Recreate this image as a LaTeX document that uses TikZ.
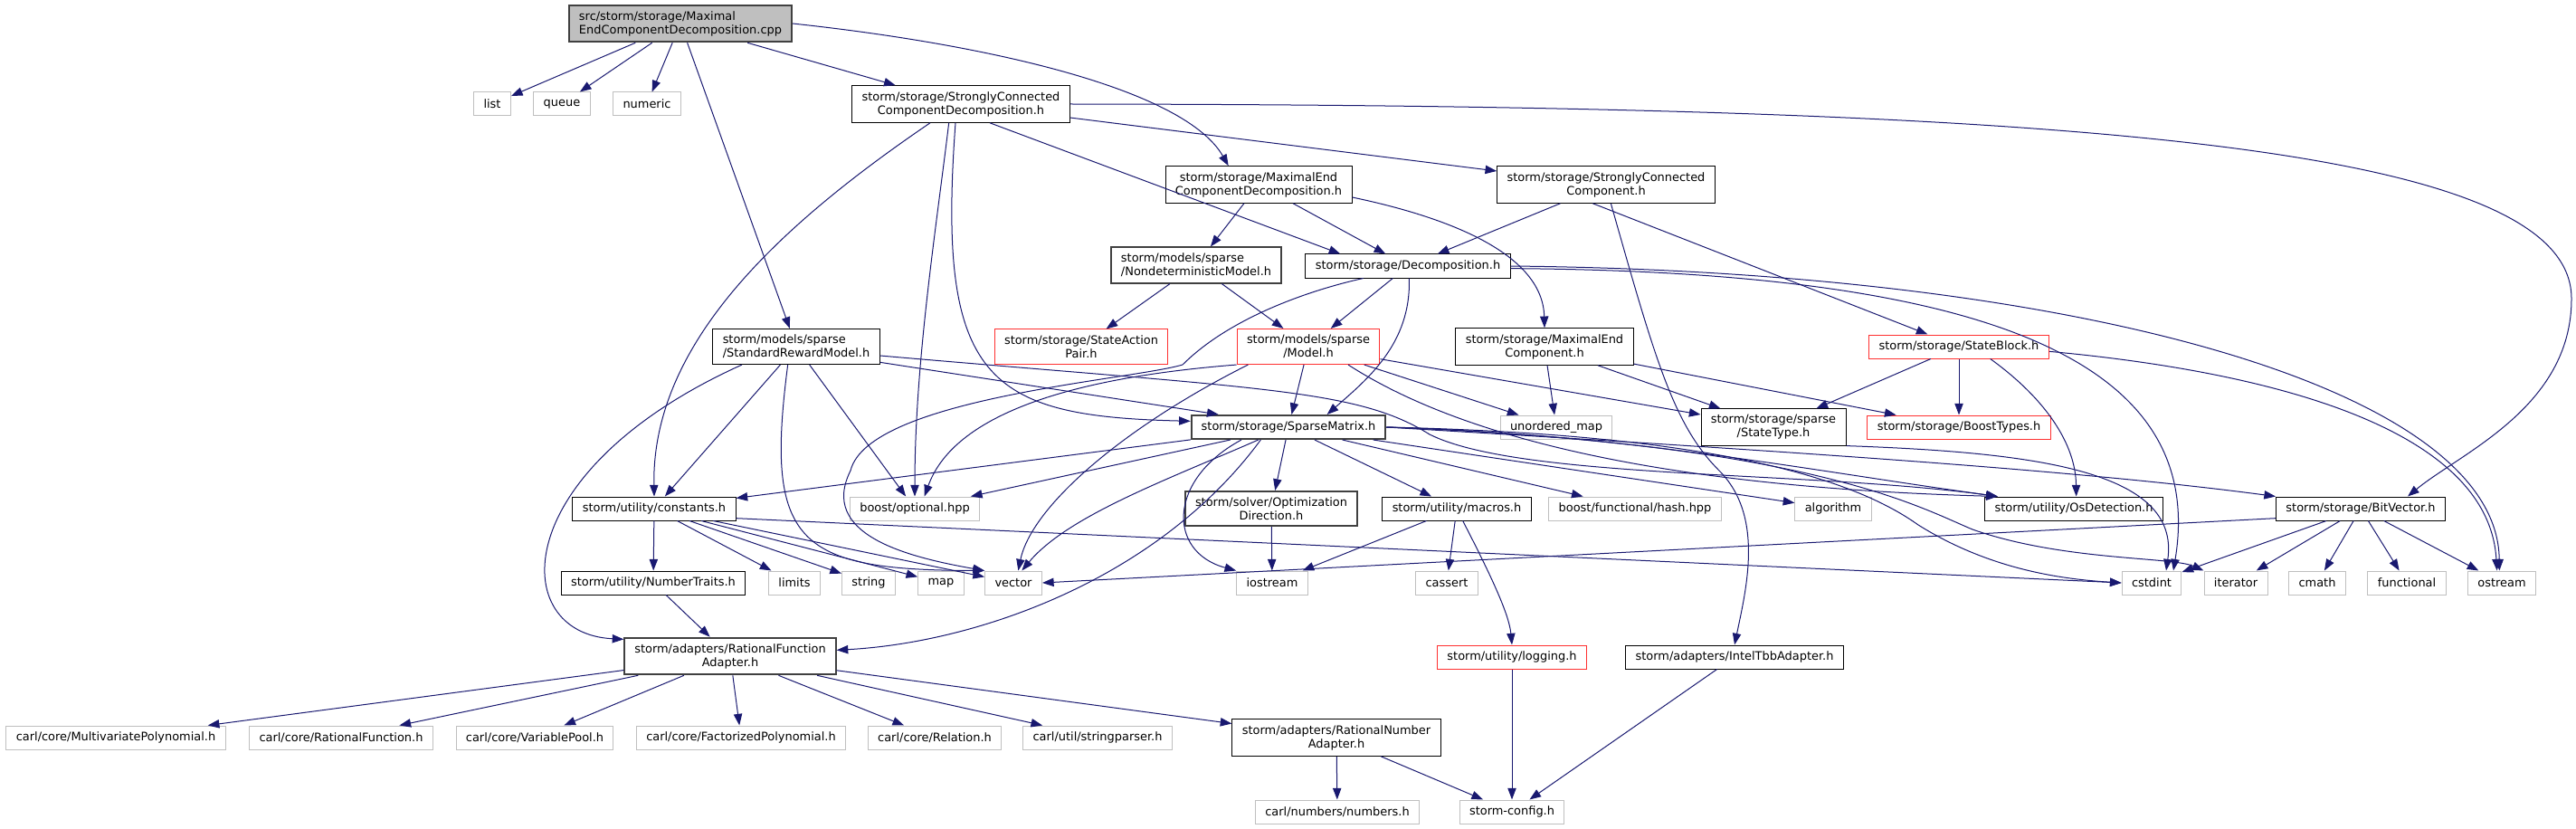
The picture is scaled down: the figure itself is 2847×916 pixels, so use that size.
\documentclass[tikz,border=0pt]{standalone}
\usepackage{fontspec}
\setmainfont{DejaVu Sans}
\usepackage{tikz}
\usetikzlibrary{arrows.meta}
\definecolor{doxblue}{RGB}{25,25,112}
\definecolor{doxgray}{RGB}{191,191,191}
\definecolor{doxdark}{RGB}{64,64,64}
\definecolor{doxred}{RGB}{255,48,48}

\begin{document}
\begin{tikzpicture}[x=0.75pt, y=-0.75pt,
    every node/.style={font=\fontsize{9.7}{11.25}\selectfont, inner xsep=8.2pt, inner ysep=4.9pt,
      minimum height=19.5pt, align=center, line width=0.75pt},
    hdr/.style={draw=black},
    hdrdark/.style={draw=doxdark, line width=1.5pt},
    leaf/.style={draw=doxgray},
    trunc/.style={draw=doxred},
    srcfile/.style={draw=doxdark, line width=1.5pt, fill=doxgray, align=left},
    dep/.style={draw=doxblue, line width=0.75pt, -{Triangle[length=9.5pt,width=7pt]}}]
    \useasboundingbox (0,0) rectangle (2847,916);
    % Source file
    \node[srcfile] (main) at (752,26) {src/storm/storage/Maximal\\EndComponentDecomposition.cpp};
    % Headers
    \node[hdr] (sccd) at (1062,115) {storm/storage/StronglyConnected\\ComponentDecomposition.h};
    \node[hdr] (mecd) at (1391,204) {storm/storage/MaximalEnd\\ComponentDecomposition.h};
    \node[hdr] (scc) at (1775,204) {storm/storage/StronglyConnected\\Component.h};
    \node[hdrdark, align=left] (ndm) at (1322,293) {storm/models/sparse\\/NondeterministicModel.h};
    \node[hdr] (decomp) at (1556,294) {storm/storage/Decomposition.h};
    \node[hdr, align=left] (srm) at (880,383) {storm/models/sparse\\/StandardRewardModel.h};
    \node[trunc] (sap) at (1195,383) {storm/storage/StateAction\\Pair.h};
    \node[trunc] (model) at (1446,383) {storm/models/sparse\\/Model.h};
    \node[hdr] (mec) at (1707,383) {storm/storage/MaximalEnd\\Component.h};
    \node[trunc] (sblock) at (2165,383) {storm/storage/StateBlock.h};
    \node[hdrdark] (spm) at (1424,472) {storm/storage/SparseMatrix.h};
    \node[leaf] (umap) at (1720,472) {unordered\_map};
    \node[hdr] (stype) at (1960,472) {storm/storage/sparse\\/StateType.h};
    \node[trunc] (btypes) at (2165,472) {storm/storage/BoostTypes.h};
    \node[hdr] (const) at (723,562) {storm/utility/constants.h};
    \node[leaf] (bopt) at (1011,562) {boost/optional.hpp};
    \node[hdrdark] (optdir) at (1405,562) {storm/solver/Optimization\\Direction.h};
    \node[hdr] (macros) at (1610,562) {storm/utility/macros.h};
    \node[leaf] (bhash) at (1807,562) {boost/functional/hash.hpp};
    \node[hdr] (osdet) at (2292,562) {storm/utility/OsDetection.h};
    \node[hdr] (bitvec) at (2609,562) {storm/storage/BitVector.h};
    \node[hdr] (ntraits) at (722,644) {storm/utility/NumberTraits.h};
    \node[hdrdark] (rfa) at (807,725) {storm/adapters/RationalFunction\\Adapter.h};
    \node[trunc] (logging) at (1671,726) {storm/utility/logging.h};
    \node[hdr] (tbb) at (1917,726) {storm/adapters/IntelTbbAdapter.h};
    \node[hdr] (rna) at (1477,815) {storm/adapters/RationalNumber\\Adapter.h};
    % Carl headers
    \node[leaf] (mvp) at (128,815) {carl/core/MultivariatePolynomial.h};
    \node[leaf] (rf) at (377,815) {carl/core/RationalFunction.h};
    \node[leaf] (vpool) at (591,815) {carl/core/VariablePool.h};
    \node[leaf] (fpoly) at (819,815) {carl/core/FactorizedPolynomial.h};
    \node[leaf] (rel) at (1033,815) {carl/core/Relation.h};
    \node[leaf] (sparser) at (1213,815) {carl/util/stringparser.h};
    \node[leaf] (numbers) at (1478,897) {carl/numbers/numbers.h};
    \node[leaf] (config) at (1671,897) {storm-config.h};
    % System headers
    \foreach \n/\x/\y in {list/544/115, queue/621/115, numeric/715/115, algorithm/2026/562,
        limits/878/644, string/960/644, map/1040/644, vector/1120/644, iostream/1406/644,
        cassert/1599/644, cstdint/2378/644, iterator/2471/644, cmath/2561/644,
        functional/2660/644, ostream/2765/644}{
      \node[leaf] (\n) at (\x,\y) {\n};
    }
    % Includes of the source file
    \draw[dep] (main) -- (list);
    \draw[dep] (main) -- (queue);
    \draw[dep] (main) -- (numeric);
    \draw[dep] (main) -- (sccd);
    \draw[dep] (main) -- (srm);
    \draw[dep] (main.east) .. controls (1100,50) and (1310,100) .. ([xshift=-25pt]mecd.north);
    % StronglyConnectedComponentDecomposition.h
    \draw[dep] ([xshift=-25.5pt]sccd.south) .. controls (860,250) and (720,380) .. (const.north);
    \draw[dep] ([xshift=-10pt]sccd.south) .. controls (1035,250) and (1011,400) .. (bopt.north);
    \draw[dep] ([xshift=-4.5pt]sccd.south) .. controls (1035,420) and (1090,460) .. ([yshift=5pt]spm.west);
    \draw[dep] ([xshift=24pt]sccd.south) -- ([xshift=-56pt]decomp.north);
    \draw[dep] (sccd) -- (scc);
    \draw[dep] (sccd.east) .. controls (2300,116) and (2842,160) .. (2842,330)
      .. controls (2842,450) and (2720,500) .. ([xshift=39pt]bitvec.north);
    % MaximalEndComponentDecomposition.h
    \draw[dep] (mecd) -- (ndm);
    \draw[dep] (mecd) -- (decomp);
    \draw[dep] ([yshift=-10.5pt]mecd.east) .. controls (1600,240) and (1705,280) .. (mec.north);
    % StronglyConnectedComponent.h
    \draw[dep] (scc) -- (decomp);
    \draw[dep] ([xshift=-11pt]scc.south) -- (sblock);
    \draw[dep] ([xshift=4pt]scc.south) .. controls (1830,400) and (1850,470) .. (1900,520)
      .. controls (1950,570) and (1930,650) .. (tbb.north);
    % Decomposition.h
    \draw[dep] (decomp) -- (model);
    \draw[dep] ([xshift=1pt]decomp.south) .. controls (1560,380) and (1510,420) .. ([xshift=32pt]spm.north);
    \draw[dep] ([xshift=-37pt]decomp.south) .. controls (1450,320) and (1360,350) .. (1307,403)
      .. controls (1250,420) and (960,440) .. (940,520)
      .. controls (905,590) and (1000,615) .. (vector.north west);
    \draw[dep] ([yshift=-2pt]decomp.east) .. controls (2200,300) and (2440,400) .. ([xshift=18pt]cstdint.north);
    \draw[dep] (decomp.east) .. controls (2300,300) and (2760,430) .. ([xshift=-2pt]ostream.north);
    % NondeterministicModel.h
    \draw[dep] (ndm) -- (sap);
    \draw[dep] (ndm) -- (model);
    % StandardRewardModel.h
    \draw[dep] ([xshift=-45pt]srm.south) .. controls (560,520) and (560,700) .. ([yshift=-2pt]rfa.north west);
    \draw[dep] (srm) -- (const);
    \draw[dep] ([xshift=-7pt]srm.south) .. controls (845,600) and (880,630) .. (vector.north west);
    \draw[dep] (srm) -- (bopt);
    \draw[dep] ([yshift=-13pt]srm.east) -- ([xshift=-58pt]spm.north);
    \draw[dep] ([yshift=-7.5pt]srm.east) .. controls (1400,430) and (1500,430) .. (1580,480)
      .. controls (1680,530) and (2000,520) .. ([xshift=11pt]osdet.north west);
    % Model.h
    \draw[dep] (model.south west) .. controls (1150,420) and (1050,470) .. ([xshift=8pt]bopt.north);
    \draw[dep] ([xshift=-50pt]model.south) .. controls (1240,473) and (1140,560) .. ([xshift=4pt]vector.north);
    \draw[dep] (model) -- (spm);
    \draw[dep] (model) -- (umap);
    \draw[dep] (model) -- (stype);
    \draw[dep] ([xshift=33pt]model.south) .. controls (1640,500) and (1900,540) .. ([xshift=11pt]osdet.north west);
    % MaximalEndComponent.h
    \draw[dep] (mec) -- (umap);
    \draw[dep] (mec) -- (stype);
    \draw[dep] (mec) -- (btypes);
    % StateBlock.h
    \draw[dep] (sblock) -- (stype);
    \draw[dep] (sblock) -- (btypes);
    \draw[dep] ([xshift=26pt]sblock.south) .. controls (2260,440) and (2294,490) .. ([xshift=2pt]osdet.north);
    \draw[dep] ([yshift=-4pt]sblock.east) .. controls (2500,410) and (2750,470) .. ([xshift=-4pt]ostream.north);
    % StateType.h
    \draw[dep] (stype.south east) .. controls (2250,500) and (2410,520) .. ([xshift=12pt]cstdint.north);
    % SparseMatrix.h
    \draw[dep] (spm) -- (const);
    \draw[dep] (spm) -- (bopt);
    \draw[dep] ([xshift=-25pt]spm.south) .. controls (1290,530) and (1180,570) .. ([xshift=7pt]vector.north);
    \draw[dep] ([xshift=-23pt]spm.south) .. controls (1280,640) and (1080,710) .. ([yshift=5pt]rfa.east);
    \draw[dep] ([xshift=-39pt]spm.south) .. controls (1290,530) and (1290,610) .. (iostream.north west);
    \draw[dep] (spm) -- (optdir);
    \draw[dep] (spm) -- (macros);
    \draw[dep] (spm) -- (bhash);
    \draw[dep] (spm) -- (algorithm);
    \draw[dep] (spm.east) .. controls (1800,480) and (2000,520) .. ([xshift=11pt]osdet.north west);
    \draw[dep] (spm.east) .. controls (2000,500) and (2300,520) .. (bitvec.north west);
    \draw[dep] (spm.east) .. controls (1900,480) and (2050,530) .. (2120,580)
      .. controls (2200,630) and (2280,640) .. (cstdint.west);
    \draw[dep] (spm.east) .. controls (2000,490) and (2120,560) .. (2180,585)
      .. controls (2280,620) and (2400,615) .. (iterator.north west);
    % constants.h
    \draw[dep] (const) -- (ntraits);
    \draw[dep] (const) -- (limits);
    \draw[dep] (const) -- (string);
    \draw[dep] (const) -- (map);
    \draw[dep] (const) -- (vector);
    \draw[dep] ([yshift=-8pt]const.east) -- (cstdint.west);
    \draw[dep] (ntraits) -- (rfa);
    % BitVector.h
    \draw[dep] ([yshift=-8pt]bitvec.west) -- (vector.east);
    \draw[dep] (bitvec) -- (cstdint);
    \draw[dep] (bitvec) -- (iterator);
    \draw[dep] (bitvec) -- (cmath);
    \draw[dep] (bitvec) -- (functional);
    \draw[dep] (bitvec) -- (ostream);
    % macros.h and OptimizationDirection.h
    \draw[dep] (macros) -- (iostream);
    \draw[dep] (macros) -- (cassert);
    \draw[dep] ([xshift=5pt]macros.south) .. controls (1650,640) and (1668,680) .. (logging.north);
    \draw[dep] (optdir) -- (iostream);
    % RationalFunctionAdapter.h
    \draw[dep] (rfa) -- (mvp);
    \draw[dep] (rfa) -- (rf);
    \draw[dep] (rfa) -- (vpool);
    \draw[dep] (rfa) -- (fpoly);
    \draw[dep] (rfa) -- (rel);
    \draw[dep] (rfa) -- (sparser);
    \draw[dep] (rfa) -- (rna);
    % Adapters to storm-config.h
    \draw[dep] (rna) -- (numbers);
    \draw[dep] (rna) -- (config);
    \draw[dep] (logging) -- (config);
    \draw[dep] (tbb) -- (config);
  \end{tikzpicture}
\end{document}
